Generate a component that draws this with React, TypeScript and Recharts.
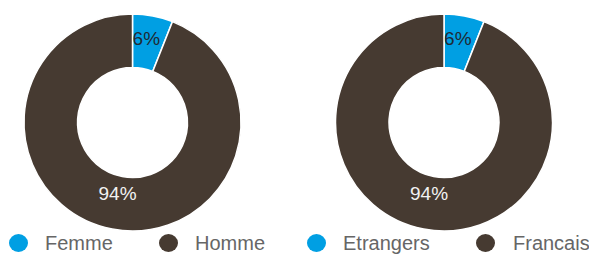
import React from "react";
import { PieChart, Pie, Cell } from "recharts";

const genderLabels = ["Femme", "Homme"];
const genderValues = [6, 94];
const nationalityLabels = ["Etrangers", "Francais"];
const nationalityValues = [6, 94];
const sliceColors = ["#009FE3", "#463A31"];
const labelColors = ["#1f2a33", "#f2f2f2"];

const genderData = genderLabels.map((name, i) => ({ name, value: genderValues[i] }));
const nationalityData = nationalityLabels.map((name, i) => ({ name, value: nationalityValues[i] }));

const RAD = Math.PI / 180;

const renderLabel = (props: any) => {
  const { cx, cy, midAngle, index, percent } = props;
  const r = index === 0 ? 85.5 : 73;
  const a = index === 0 ? midAngle + 1.5 : midAngle - 1;
  const x = cx + r * Math.cos(-a * RAD);
  const y = cy + r * Math.sin(-a * RAD);
  return (
    <text
      x={x}
      y={y}
      fill={labelColors[index]}
      textAnchor="middle"
      dominantBaseline="central"
      fontSize={19}
      fontFamily="Liberation Sans, Arial, sans-serif"
    >
      {`${Math.round(percent * 100)}%`}
    </text>
  );
};

const legendItems = [
  { name: genderLabels[0], color: sliceColors[0], dot: 18.3, text: 45 },
  { name: genderLabels[1], color: sliceColors[1], dot: 168.3, text: 195 },
  { name: nationalityLabels[0], color: sliceColors[0], dot: 316.3, text: 343 },
  { name: nationalityLabels[1], color: sliceColors[1], dot: 485.3, text: 513 },
];

export default function App() {
  return (
    <div style={{ position: "absolute", left: 0, top: 0, width: 589, height: 254, background: "#fff" }}>
      <PieChart width={589} height={254} margin={{ top: 0, right: 0, bottom: 0, left: 0 }}>
        <Pie
          data={genderData}
          dataKey="value"
          cx={132.5}
          cy={122.5}
          innerRadius={55}
          outerRadius={108.5}
          startAngle={90}
          endAngle={-270}
          stroke="#ffffff"
          strokeWidth={1.5}
          label={renderLabel}
          labelLine={false}
          isAnimationActive={false}
        >
          {genderData.map((d, i) => (
            <Cell key={d.name} fill={sliceColors[i]} />
          ))}
        </Pie>
        <Pie
          data={nationalityData}
          dataKey="value"
          cx={444}
          cy={122.5}
          innerRadius={55}
          outerRadius={108.5}
          startAngle={90}
          endAngle={-270}
          stroke="#ffffff"
          strokeWidth={1.5}
          label={renderLabel}
          labelLine={false}
          isAnimationActive={false}
        >
          {nationalityData.map((d, i) => (
            <Cell key={d.name} fill={sliceColors[i]} />
          ))}
        </Pie>
      </PieChart>
      {legendItems.map((it) => (
        <React.Fragment key={it.name}>
          <div
            style={{
              position: "absolute",
              left: it.dot - 9.5,
              top: 243 - 9,
              width: 19,
              height: 18,
              borderRadius: "50%",
              background: it.color,
            }}
          />
          <div
            style={{
              position: "absolute",
              left: it.text,
              top: 233,
              fontSize: 20,
              lineHeight: "20px",
              color: "#666666",
              fontFamily: "Liberation Sans, Arial, sans-serif",
              whiteSpace: "nowrap",
            }}
          >
            {it.name}
          </div>
        </React.Fragment>
      ))}
    </div>
  );
}
